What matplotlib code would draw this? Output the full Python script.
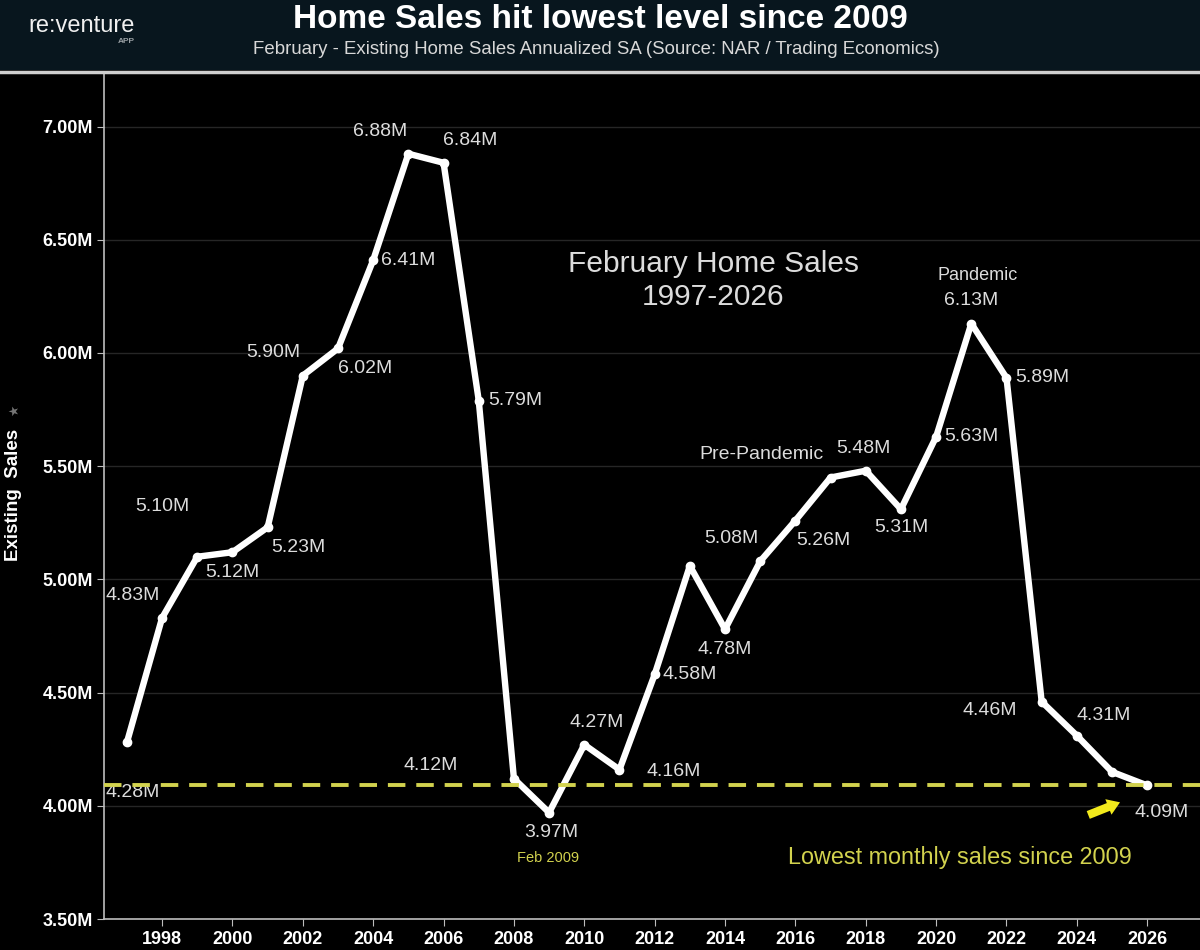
import matplotlib
matplotlib.use('Agg')
import matplotlib.pyplot as plt
from matplotlib.patches import Rectangle
from matplotlib.ticker import MultipleLocator, FuncFormatter

# 2月成屋销售（百万，年化季调）
years = list(range(1997, 2027))
sales = [4.28, 4.83, 5.10, 5.12, 5.23, 5.90, 6.02, 6.41, 6.88, 6.84,
         5.79, 4.12, 3.97, 4.27, 4.16, 4.58, 5.06, 4.78, 5.08, 5.26,
         5.45, 5.48, 5.31, 5.63, 6.13, 5.89, 4.46, 4.31, 4.15, 4.09]
# 有标签的年份 -> 标签位置 (年, 百万)
label_pos = {
    1997: (1997.17, 4.06), 1998: (1997.17, 4.93), 1999: (1998.0, 5.32),
    2000: (2000.0, 5.03), 2001: (2001.87, 5.14), 2002: (2001.16, 6.0),
    2003: (2003.78, 5.93), 2004: (2005.0, 6.41), 2005: (2004.2, 6.98),
    2006: (2006.77, 6.94), 2007: (2008.05, 5.79), 2008: (2005.63, 4.18),
    2009: (2009.05, 3.88), 2010: (2010.36, 4.37), 2011: (2012.53, 4.15),
    2012: (2013.0, 4.58), 2014: (2014.0, 4.69), 2015: (2014.18, 5.18),
    2016: (2016.8, 5.17), 2018: (2017.94, 5.58), 2019: (2019.02, 5.23),
    2020: (2021.0, 5.63), 2021: (2021.0, 6.23), 2022: (2023.02, 5.89),
    2023: (2021.53, 4.42), 2024: (2024.75, 4.40), 2026: (2026.4, 3.97),
}
lowest_level = 4.09

plt.rcParams['font.family'] = ['Liberation Sans', 'DejaVu Sans']
txt_color = '#dcdcdc'
yellow = '#d2d24e'

fig = plt.figure(figsize=(12, 9.5), dpi=100, facecolor='black')

# 顶部标题栏
fig.patches.append(Rectangle((0, 0.926), 1, 0.074, transform=fig.transFigure,
                             facecolor='#08161e', edgecolor='none', zorder=0))
fig.add_artist(plt.Line2D([0, 1], [0.924, 0.924], transform=fig.transFigure,
                          color='#cfcfcf', linewidth=2.5))
fig.text(0.5, 0.98, 'Home Sales hit lowest level since 2009', ha='center',
         va='center', color='white', fontsize=24, fontweight='bold')
fig.text(0.497, 0.948, 'February - Existing Home Sales Annualized SA (Source: NAR / Trading Economics)',
         ha='center', va='center', color='#d8d8d8', fontsize=13.4)
fig.text(0.068, 0.973, 're:venture', ha='center', va='center', color='#f0f0f0',
         fontsize=17)
fig.text(0.1125, 0.956, 'APP', ha='right', va='center', color='#9aa0a4',
         fontsize=6, fontweight='bold')

ax = fig.add_axes([0.0867, 0.0326, 0.9133, 0.889])
ax.set_facecolor('black')
ax.plot(years, sales, color='white', linewidth=4.6, marker='o', markersize=6,
        solid_joinstyle='round', zorder=3)
ax.axhline(lowest_level, color=yellow, linestyle=(0, (4.5, 2.8)), linewidth=2.8, zorder=4)

for yr, v in zip(years, sales):
    if yr in label_pos:
        lx, ly = label_pos[yr]
        ax.text(lx, ly, '%.2fM' % v, ha='center', va='center',
                color=txt_color, fontsize=14)

ax.text(2015.03, 5.55, 'Pre-Pandemic', ha='center', va='center', color=txt_color, fontsize=14)
ax.text(2021.19, 6.34, 'Pandemic', ha='center', va='center', color=txt_color, fontsize=13)
ax.text(2013.67, 6.32, 'February Home Sales\n1997-2026', ha='center', va='center',
        color=txt_color, fontsize=21.5, linespacing=1.2)
ax.text(2008.97, 3.77, 'Feb 2009', ha='center', va='center', color=yellow, fontsize=10.5)
ax.text(2020.68, 3.77, 'Lowest monthly sales since 2009', ha='center', va='center',
        color=yellow, fontsize=16.8)
ax.annotate('', xy=(2025.3, 4.02), xytext=(2024.25, 3.955),
            arrowprops=dict(arrowstyle='simple,head_width=1.2,head_length=0.9,tail_width=0.6',
                            color='#f2ea1c', lw=0))

ax.set_xlim(1996.35, 2027.5)
ax.set_ylim(3.5, 7.23)
ax.xaxis.set_major_locator(MultipleLocator(2))
ax.xaxis.set_minor_locator(MultipleLocator(1))
ax.yaxis.set_major_locator(MultipleLocator(0.5))
ax.yaxis.set_major_formatter(FuncFormatter(lambda v, p: '%.2fM' % v))
ax.grid(axis='y', color='#262626', linewidth=1)
ax.set_axisbelow(True)

for s in ['top', 'right']:
    ax.spines[s].set_visible(False)
for s in ['left', 'bottom']:
    ax.spines[s].set_color('#bdbdbd')
    ax.spines[s].set_linewidth(1.2)
ax.tick_params(axis='both', colors='#bdbdbd', labelcolor='white', labelsize=13)
ax.tick_params(axis='x', which='major', length=5)
ax.tick_params(axis='x', which='minor', length=3)
ax.tick_params(axis='y', length=5, pad=3)
for lbl in ax.get_xticklabels() + ax.get_yticklabels():
    lbl.set_fontweight('bold')

ax.set_ylabel('Existing  Sales', color='white', fontsize=13.5, fontweight='bold')
ax.yaxis.set_label_coords(-0.075, 0.502)
fig.text(0.012, 0.568, '★', color='#777777', fontsize=9, rotation=90,
         ha='center', va='center', family=['DejaVu Sans'])

fig.savefig('out.png', dpi=100, facecolor='black')
